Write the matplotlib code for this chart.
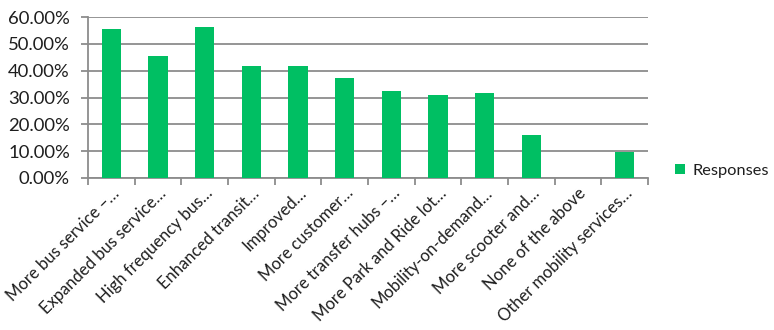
import matplotlib
matplotlib.use("Agg")
import matplotlib.pyplot as plt
from matplotlib.ticker import FuncFormatter
from matplotlib.patches import Patch

categories = [
    "More bus service –…",
    "Expanded bus service…",
    "High frequency bus…",
    "Enhanced transit…",
    "Improved…",
    "More customer…",
    "More transfer hubs –…",
    "More Park and Ride lot…",
    "Mobility-on-demand…",
    "More scooter and…",
    "None of the above",
    "Other mobility services…",
]
responses = [55.5, 45.6, 56.1, 41.6, 41.6, 37.2, 32.4, 31.0, 31.7, 16.2, 0.0, 9.6]
series_name = "Responses"
y_ticks = [0, 10, 20, 30, 40, 50, 60]

plt.rcParams['font.family'] = ['Lato', 'DejaVu Sans']
green = "#00BF63"
grid_c = "#8C8C8C"
text_c = "#1E1E1E"

fig = plt.figure(figsize=(7.74, 3.30), dpi=100)
ax = fig.add_axes([88/774, 1-178/330, (648-88)/774, (178-17)/330])

x = list(range(len(categories)))
ax.bar(x, responses, width=0.41, color=green, zorder=3)

ax.set_xlim(-0.5, len(categories)-0.5)
ax.set_ylim(0, 60)
ax.set_yticks(y_ticks)
ax.yaxis.set_major_formatter(FuncFormatter(lambda v, p: f"{v:.2f}%"))
ax.grid(axis='y', color=grid_c, linewidth=1.3, zorder=0)

ax.set_xticks([i - 0.5 for i in range(len(categories)+1)], minor=False)
ax.set_xticklabels([])
ax.set_xticks(x, minor=True)
ax.set_xticklabels(categories, minor=True, rotation=45, ha='right', va='top',
                   rotation_mode='anchor', fontsize=12, color=text_c)
ax.tick_params(axis='x', which='minor', length=0, pad=5)
ax.tick_params(axis='x', which='major', length=5, width=1.3, color=grid_c, direction='out')
ax.tick_params(axis='y', length=5, width=1.3, color=grid_c, labelsize=13.3, labelcolor=text_c, pad=8)

for s in ['top', 'right']:
    ax.spines[s].set_visible(False)
for s in ['left', 'bottom']:
    ax.spines[s].set_color(grid_c)
    ax.spines[s].set_linewidth(1.3)

handle = Patch(facecolor=green, edgecolor='none', label=series_name)
fig.legend(handles=[handle], loc='center left', bbox_to_anchor=(672/774, 1-171/330),
           frameon=False, fontsize=11.8, handlelength=0.6, handleheight=0.6,
           handletextpad=0.45, labelcolor=text_c, borderpad=0.2, borderaxespad=0)

fig.savefig("out.png", dpi=100)
